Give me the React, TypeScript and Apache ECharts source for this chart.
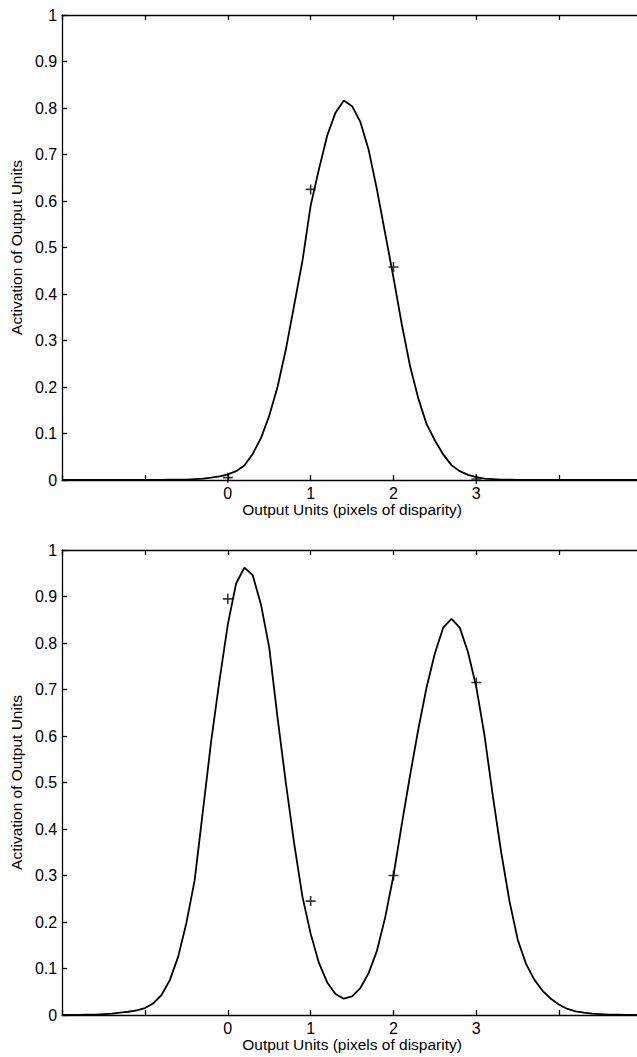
import React, { useEffect, useRef } from "react";
import * as echarts from "echarts";

const curveX = [-2.0,-1.9,-1.8,-1.7,-1.6,-1.5,-1.4,-1.3,-1.2,-1.1,-1.0,-0.9,-0.8,-0.7,-0.6,-0.5,-0.4,-0.3,-0.2,-0.1,0.0,0.1,0.2,0.3,0.4,0.5,0.6,0.7,0.8,0.9,1.0,1.1,1.2,1.3,1.4,1.5,1.6,1.7,1.8,1.9,2.0,2.1,2.2,2.3,2.4,2.5,2.6,2.7,2.8,2.9,3.0,3.1,3.2,3.3,3.4,3.5,3.6,3.7,3.8,3.9,4.0,4.1,4.2,4.3,4.4,4.5,4.6,4.7,4.8,4.9,5.0];

const topCurveY = [0,0,0,0,0,0,0,0,0,0,0,
  0,0,0.0005,0.001,0.001,0.002,0.003,0.005,0.008,0.012,
  0.019,0.031,0.056,0.09,0.138,0.2,0.28,0.375,0.47,0.59,
  0.668,0.741,0.79,0.816,0.804,0.77,0.71,0.625,0.53,0.435,
  0.335,0.245,0.175,0.12,0.085,0.055,0.032,0.019,0.011,0.006,
  0.003,0.002,0.001,0.0005,0,0,0,0,0,0,
  0,0,0,0,0,0,0,0,0,0];

const bottomCurveY = [0,0,0,0.0005,0.001,0.002,0.003,0.005,0.007,0.01,0.015,
  0.025,0.043,0.075,0.125,0.198,0.29,0.44,0.59,0.72,0.84,
  0.928,0.962,0.946,0.883,0.79,0.64,0.5,0.37,0.255,0.175,
  0.112,0.07,0.045,0.035,0.04,0.058,0.09,0.138,0.21,0.3,
  0.41,0.515,0.615,0.705,0.778,0.833,0.852,0.833,0.78,0.705,
  0.6,0.47,0.35,0.245,0.162,0.11,0.076,0.052,0.035,0.022,
  0.013,0.008,0.005,0.003,0.002,0.001,0.0005,0,0,0];

const unitsX = [0, 1, 2, 3];
const topUnitsY = [0.005, 0.625, 0.458, 0.002];
const bottomUnitsY = [0.895, 0.245, 0.3, 0.715];

const xTitle = "Output Units (pixels of disparity)";
const yTitle = "Activation of Output Units";

const FONT = "'Liberation Sans', Arial, Helvetica, sans-serif";
const PLUS = "path://M4.2,0H5.8V4.2H10V5.8H5.8V10H4.2V5.8H0V4.2H4.2Z";

function pairs(xs: number[], ys: number[]) {
  return xs.map((x, i) => [x, ys[i]]);
}

export default function App() {
  const ref = useRef<HTMLDivElement>(null);
  useEffect(() => {
    if (!ref.current) return;
    const chart = echarts.init(ref.current, null, { renderer: "svg" });
    const grids = [
      { left: 54, top: 15, width: 588, height: 465 },
      { left: 54, top: 550, width: 588, height: 465 },
    ];
    const lineStyle = { color: "#000", width: 1.3 };
    const xAxes: any[] = [];
    const yAxes: any[] = [];
    grids.forEach((_, g) => {
      xAxes.push({
        type: "value", gridIndex: g, position: "bottom", min: -2, max: 5, interval: 1,
        axisLine: { show: true, onZero: false, lineStyle },
        axisTick: { show: true, inside: true, length: 5, lineStyle },
        splitLine: { show: false },
        axisLabel: {
          color: "#000", fontFamily: FONT, fontSize: 16, margin: 5,
          formatter: (v: number) => (v >= 0 && v <= 3 ? String(v) : ""),
        },
        name: xTitle, nameLocation: "middle", nameGap: 21,
        nameTextStyle: { color: "#000", fontFamily: FONT, fontSize: 15.5 },
      });
      xAxes.push({
        type: "value", gridIndex: g, position: "top", min: -2, max: 5, interval: 1,
        axisLine: { show: true, onZero: false, lineStyle },
        axisTick: { show: true, inside: true, length: 5, lineStyle },
        splitLine: { show: false },
        axisLabel: { show: false },
      });
      yAxes.push({
        type: "value", gridIndex: g, position: "left", min: 0, max: 1, interval: 0.1,
        axisLine: { show: true, onZero: false, lineStyle },
        axisTick: { show: true, inside: true, length: 5, lineStyle },
        splitLine: { show: false },
        axisLabel: {
          color: "#000", fontFamily: FONT, fontSize: 16, margin: 5,
          formatter: (v: number) => String(Math.round(v * 10) / 10),
        },
        name: yTitle, nameLocation: "middle", nameGap: 28, nameRotate: 90,
        nameTextStyle: { color: "#000", fontFamily: FONT, fontSize: 15.5 },
      });
      yAxes.push({
        type: "value", gridIndex: g, position: "right", min: 0, max: 1, interval: 0.1,
        axisLine: { show: true, onZero: false, lineStyle },
        axisTick: { show: true, inside: true, length: 5, lineStyle },
        splitLine: { show: false },
        axisLabel: { show: false },
      });
    });
    const curves = [topCurveY, bottomCurveY];
    const marks = [topUnitsY, bottomUnitsY];
    const series: any[] = [];
    grids.forEach((_, g) => {
      series.push({
        type: "line", xAxisIndex: g * 2, yAxisIndex: g * 2,
        data: pairs(curveX, curves[g]), showSymbol: false, symbol: "none",
        lineStyle: { color: "#000", width: 1.8 }, smooth: false,
      });
      series.push({
        type: "scatter", xAxisIndex: g * 2, yAxisIndex: g * 2,
        data: pairs(unitsX, marks[g]), symbol: PLUS, symbolSize: 10,
        itemStyle: { color: "#000" },
      });
    });
    chart.setOption({
      animation: false,
      backgroundColor: "#fff",
      grid: grids,
      xAxis: xAxes,
      yAxis: yAxes,
      series,
    });
    return () => chart.dispose();
  }, []);
  return (
    <div style={{ position: "absolute", left: 0, top: 0, width: 637, height: 1057, overflow: "hidden", background: "#fff" }}>
      <div ref={ref} style={{ width: 660, height: 1057 }} />
    </div>
  );
}
